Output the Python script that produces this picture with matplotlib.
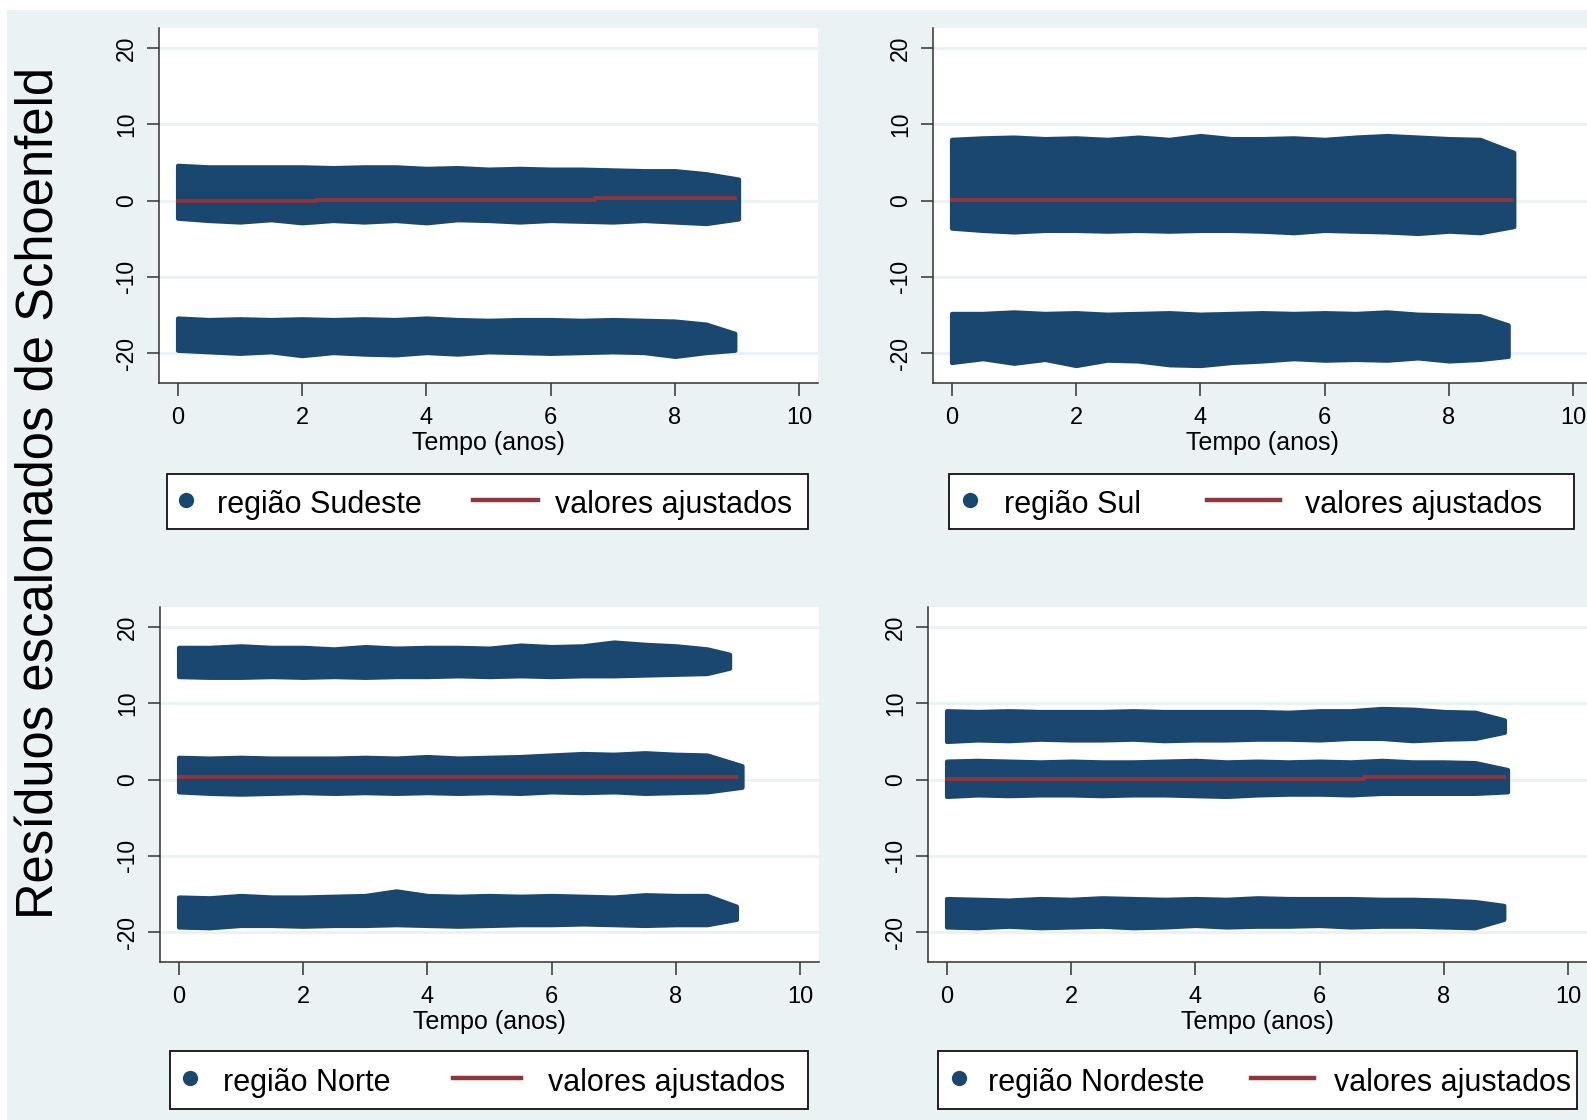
import matplotlib
matplotlib.use("Agg")
import matplotlib.pyplot as plt
from matplotlib.patches import Rectangle
from matplotlib.lines import Line2D

plt.rcParams['font.family'] = ['Liberation Sans', 'DejaVu Sans']

W, H = 1587, 1120
AZUL = '#1A476F'
VINHO = '#90353B'
FUNDO = '#EAF2F3'

# tempo (anos) onde as bordas das nuvens de residuos foram lidas
anos = [0, 0.5, 1, 1.5, 2, 2.5, 3, 3.5, 4, 4.5, 5, 5.5, 6, 6.5, 7, 7.5, 8, 8.5]

# Sudeste: faixas (borda superior / inferior), ultimo valor = fim da faixa
sudeste_fim = [9.02, 8.96]
sudeste_topo = [
    [4.6, 4.4, 4.4, 4.4, 4.4, 4.3, 4.4, 4.4, 4.2, 4.3, 4.1, 4.2, 4.1, 4.1, 4.0, 3.9, 3.9, 3.5, 2.8],
    [-15.4, -15.6, -15.5, -15.6, -15.5, -15.6, -15.5, -15.6, -15.4, -15.6, -15.7, -15.6, -15.6, -15.7, -15.6, -15.7, -15.8, -16.2, -17.4],
]
sudeste_base = [
    [-2.3, -2.6, -2.8, -2.5, -2.9, -2.6, -2.8, -2.6, -2.9, -2.5, -2.6, -2.8, -2.6, -2.7, -2.8, -2.6, -2.8, -3.0, -2.4],
    [-19.6, -19.8, -20.0, -19.8, -20.3, -19.9, -20.1, -20.2, -19.9, -20.1, -19.8, -19.9, -20.0, -19.9, -19.8, -19.9, -20.4, -19.9, -19.6],
]
sudeste_ajuste_x = [0, 2.22, 6.72, 8.96]
sudeste_ajuste_y = [-0.05, 0.12, 0.28, 0.28]

# Sul
sul_fim = [9.04, 8.95]
sul_topo = [
    [8.0, 8.2, 8.3, 8.1, 8.2, 8.0, 8.3, 8.0, 8.5, 8.1, 8.1, 8.2, 8.0, 8.3, 8.5, 8.3, 8.1, 8.0, 6.3],
    [-14.8, -14.8, -14.6, -14.8, -14.7, -14.9, -14.8, -14.7, -14.9, -14.8, -14.7, -14.8, -14.7, -14.8, -14.6, -14.9, -15.0, -15.1, -16.3],
]
sul_base = [
    [-3.6, -3.9, -4.1, -3.9, -3.9, -4.0, -3.9, -4.0, -3.9, -3.9, -4.0, -4.2, -3.9, -4.0, -4.1, -4.3, -4.0, -4.2, -3.4],
    [-21.2, -20.7, -21.3, -20.8, -21.6, -20.9, -21.0, -21.5, -21.6, -21.2, -21.0, -20.7, -20.9, -20.8, -20.9, -20.6, -21.0, -20.8, -20.4],
]
sul_ajuste_x = [0, 9.02]
sul_ajuste_y = [0.12, 0.12]

# Norte
norte_fim = [8.86, 9.06, 8.97]
norte_topo = [
    [17.3, 17.3, 17.5, 17.3, 17.3, 17.1, 17.4, 17.2, 17.3, 17.3, 17.2, 17.6, 17.4, 17.5, 18.0, 17.7, 17.5, 17.1, 16.4],
    [2.9, 2.8, 2.9, 2.8, 2.8, 2.8, 2.9, 2.8, 3.0, 2.8, 2.9, 3.0, 3.2, 3.4, 3.3, 3.5, 3.3, 3.2, 1.8],
    [-15.4, -15.5, -15.2, -15.4, -15.4, -15.3, -15.2, -14.6, -15.2, -15.3, -15.2, -15.3, -15.2, -15.3, -15.4, -15.1, -15.2, -15.2, -16.6],
]
norte_base = [
    [13.5, 13.4, 13.4, 13.5, 13.4, 13.5, 13.4, 13.5, 13.5, 13.6, 13.5, 13.6, 13.5, 13.6, 13.6, 13.7, 13.8, 13.9, 14.6],
    [-1.6, -1.8, -1.9, -1.8, -1.7, -1.8, -1.7, -1.8, -1.7, -1.8, -1.7, -1.8, -1.6, -1.7, -1.6, -1.8, -1.7, -1.6, -1.0],
    [-19.3, -19.4, -19.1, -19.1, -19.2, -19.1, -19.1, -19.0, -19.1, -19.2, -19.1, -19.0, -19.0, -18.9, -19.0, -19.1, -19.0, -19.0, -18.3],
]
norte_ajuste_x = [0, 8.96]
norte_ajuste_y = [0.28, 0.28]

# Nordeste
nordeste_fim = [8.97, 9.02, 8.96]
nordeste_topo = [
    [9.0, 8.9, 9.0, 8.9, 8.9, 8.9, 9.0, 8.9, 8.9, 8.9, 8.9, 8.8, 9.0, 9.0, 9.3, 9.2, 8.9, 8.8, 7.8],
    [2.4, 2.5, 2.4, 2.3, 2.4, 2.3, 2.3, 2.4, 2.5, 2.3, 2.4, 2.3, 2.4, 2.3, 2.5, 2.3, 2.3, 2.2, 1.3],
    [-15.6, -15.7, -15.8, -15.6, -15.7, -15.5, -15.6, -15.7, -15.6, -15.7, -15.5, -15.6, -15.6, -15.6, -15.7, -15.7, -15.8, -16.0, -16.5],
]
nordeste_base = [
    [5.0, 5.2, 5.1, 5.3, 5.2, 5.2, 5.3, 5.1, 5.2, 5.2, 5.3, 5.3, 5.2, 5.4, 5.4, 5.1, 5.3, 5.4, 6.2],
    [-2.2, -2.0, -2.1, -2.0, -2.0, -2.1, -2.0, -2.0, -2.1, -2.2, -2.0, -1.9, -1.9, -2.0, -1.8, -1.8, -1.8, -1.8, -1.6],
    [-19.3, -19.4, -19.2, -19.4, -19.3, -19.2, -19.4, -19.3, -19.1, -19.3, -19.2, -19.2, -19.1, -19.3, -19.2, -19.2, -19.3, -19.4, -18.3],
]
nordeste_ajuste_x = [0, 6.72, 8.96]
nordeste_ajuste_y = [0.1, 0.27, 0.27]

yticks = [-20, -10, 0, 10, 20]
xticks = [0, 2, 4, 6, 8, 10]

paineis = [
    # rotulo, fim, topo, base, ajuste x/y, eixo (px: esq, topo), legenda (caixa x0,x1,y0,y1, marcador, texto1, linha x0,x1, texto2)
    ('região Sudeste', sudeste_fim, sudeste_topo, sudeste_base, sudeste_ajuste_x, sudeste_ajuste_y,
     (159, 28), (167, 808, 474, 529, 186, 217, 473, 538, 555)),
    ('região Sul', sul_fim, sul_topo, sul_base, sul_ajuste_x, sul_ajuste_y,
     (933, 28), (949, 1574, 474, 529, 970, 1004, 1207, 1280, 1305)),
    ('região Norte', norte_fim, norte_topo, norte_base, norte_ajuste_x, norte_ajuste_y,
     (160, 607), (170, 808, 1051, 1109, 190, 223, 453, 521, 548)),
    ('região Nordeste', nordeste_fim, nordeste_topo, nordeste_base, nordeste_ajuste_x, nordeste_ajuste_y,
     (928, 607), (938, 1577, 1051, 1109, 959, 988, 1251, 1314, 1334)),
]

fig = plt.figure(figsize=(W / 100, H / 100), dpi=100, facecolor='white')
fig.patches.append(Rectangle((7 / W, 0), 1, 1 - 10 / H, transform=fig.transFigure,
                             facecolor=FUNDO, edgecolor='none', zorder=-10))


def fx(px):
    return px / W


def fy(py):
    return 1 - py / H


for rotulo, fim, topo, base, aj_x, aj_y, (esq, cima), leg in paineis:
    ax = fig.add_axes([fx(esq), fy(cima + 355), 659 / W, 355 / H])
    ax.set_facecolor('white')
    for f, t, b in zip(fim, topo, base):
        xs = anos + [f]
        # nuvem densa de pontos: contorno arredondado como os marcadores do Stata
        ax.fill_between(xs, b, t, facecolor=AZUL, edgecolor=AZUL, lw=3.2,
                        joinstyle='round', capstyle='round', zorder=3)
    ax.plot(aj_x, aj_y, color=VINHO, lw=2.8, drawstyle='steps-post', zorder=4)

    ax.set_xlim(-0.3, 10.3)
    ax.set_ylim(-23.9, 22.6)
    ax.set_xticks(xticks)
    ax.set_yticks(yticks)
    ax.set_yticklabels([str(v) for v in yticks], rotation=90, va='center')
    ax.grid(axis='y', color=FUNDO, lw=2.2, zorder=0)
    ax.tick_params(axis='both', length=9, width=1.1, color='#333333', labelsize=16.5, pad=6)
    ax.tick_params(axis='x', labelsize=17, pad=8)
    for lado in ['top', 'right']:
        ax.spines[lado].set_visible(False)
    for lado in ['left', 'bottom']:
        ax.spines[lado].set_color('#333333')
        ax.spines[lado].set_linewidth(1.1)
    ax.set_xlabel('Tempo (anos)', fontsize=18, labelpad=2)

    # legenda no estilo Stata
    bx0, bx1, by0, by1, mx, tx1, lx0, lx1, tx2 = leg
    yc = (by0 + by1) / 2
    fig.patches.append(Rectangle((fx(bx0), fy(by1)), (bx1 - bx0) / W, (by1 - by0) / H,
                                 transform=fig.transFigure, facecolor='white',
                                 edgecolor='#111111', lw=1.3, zorder=5))
    fig.lines.append(Line2D([fx(mx)], [fy(yc - 2)], marker='o', ms=11, color=AZUL, mew=0,
                            transform=fig.transFigure, zorder=6))
    fig.lines.append(Line2D([fx(lx0), fx(lx1)], [fy(yc - 2), fy(yc - 2)], color=VINHO, lw=3.2,
                            transform=fig.transFigure, zorder=6))
    fig.text(fx(tx1), fy(yc + 3), rotulo, fontsize=22, va='center', ha='left', zorder=7)
    fig.text(fx(tx2), fy(yc + 3), 'valores ajustados', fontsize=22, va='center', ha='left', zorder=7)

fig.text(fx(40), fy(493), 'Resíduos escalonados de Schoenfeld', rotation=90,
         fontsize=36.5, va='center', ha='center')

fig.savefig('out.png', dpi=100, facecolor=fig.get_facecolor())
